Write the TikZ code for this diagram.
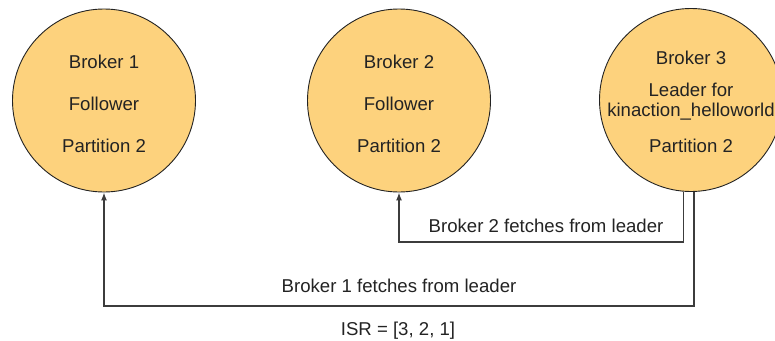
\documentclass[tikz,border=0pt]{standalone}
\usepackage{fontspec}
\setmainfont{Liberation Sans}
\usetikzlibrary{arrows.meta}
\definecolor{brokerfill}{RGB}{253,210,125}
\definecolor{ink}{RGB}{35,35,35}
\definecolor{linec}{RGB}{60,60,60}
\tikzset{
  broker/.style={circle, draw=ink, line width=0.9pt, fill=brokerfill, minimum size=183pt, inner sep=0pt},
  txt/.style={text=ink, font=\fontsize{18.6pt}{21pt}\selectfont, inner sep=0pt, anchor=center},
  conn/.style={draw=linec, line width=1.3pt, -{Latex[length=8pt,width=6pt]}},
  plainconn/.style={draw=linec, line width=1.3pt}
}
\begin{document}
\begin{tikzpicture}[x=1pt,y=-1pt]
\useasboundingbox (0,0) rectangle (775,340);
\clip (0,0) rectangle (775,340);
\fill[white] (0,0) rectangle (775,340);
\node[broker] (b1) at (104,100.5) {};
\node[broker] (b2) at (399,100.5) {};
\node[broker] (b3) at (691,100) {};
% texts
\node[txt] (t11) at (104,62) {Broker 1};
\node[txt] (t12) at (104,104) {Follower};
\node[txt] (t13) at (104,146) {Partition 2};
\node[txt] (t21) at (399,62) {Broker 2};
\node[txt] (t22) at (399,104) {Follower};
\node[txt] (t23) at (399,146) {Partition 2};
\node[txt] (t31) at (691,58) {Broker 3};
\node[txt] (t32) at (691,90) {Leader for};
\node[txt] (t33) at (691,112) {kinaction\_helloworld};
\node[txt] (t34) at (691,146) {Partition 2};
% connectors
\coordinate (c2) at (683.3,242);
\coordinate (c1) at (694,306);
\draw[conn] (b3.south -| c2) -- (c2) -| (b2.south);
\draw[conn] (b3.south -| c1) -- (c1) -| (b1.south);
\node[txt] (l2) at (546,226) {Broker 2 fetches from leader};
\node[txt] (l1) at (399,286) {Broker 1 fetches from leader};
\node[txt] (isr) at (398,331) {ISR = [3, 2, 1]};
\end{tikzpicture}
\end{document}
